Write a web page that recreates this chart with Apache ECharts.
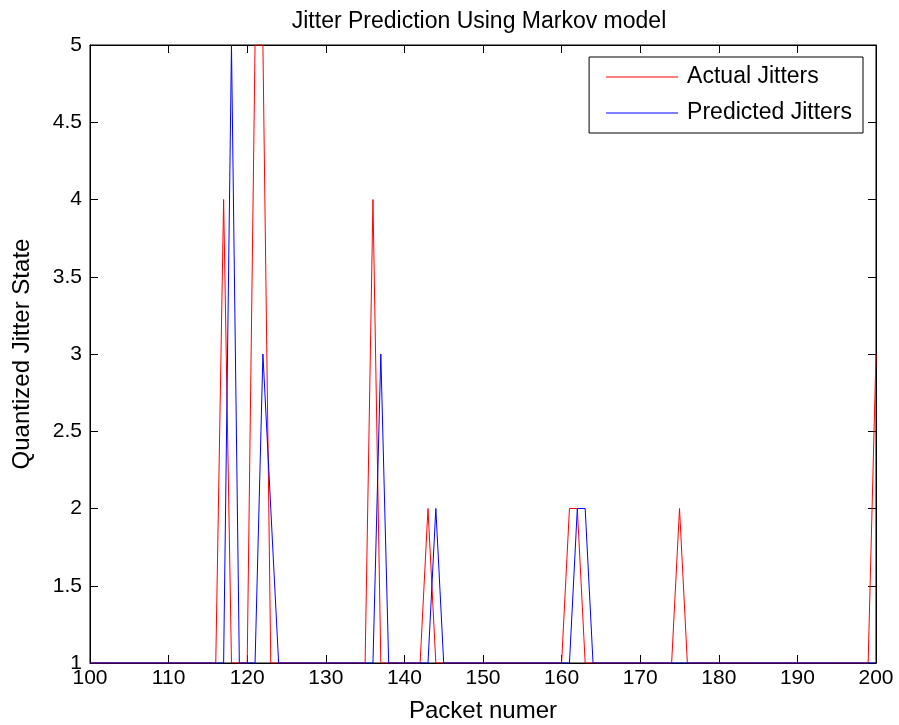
<!DOCTYPE html>
<html>
<head>
<meta charset="utf-8">
<script src="https://cdn.jsdelivr.net/npm/echarts@6/dist/echarts.min.js"></script>
<style>
html,body{margin:0;padding:0;background:#fff;}
#chart{width:899px;height:725px;}
</style>
</head>
<body>
<div id="chart"></div>
<script>
// packet numbers 100..200, one value per packet
var packetStart = 100;
var actualJitters = [
	1,1,1,1,1,1,1,1,1,1,
	1,1,1,1,1,1,1,4,1,1,
	1,5,5,1,1,1,1,1,1,1,
	1,1,1,1,1,1,4,1,1,1,
	1,1,1,2,1,1,1,1,1,1,
	1,1,1,1,1,1,1,1,1,1,
	1,2,2,1,1,1,1,1,1,1,
	1,1,1,1,1,2,1,1,1,1,
	1,1,1,1,1,1,1,1,1,1,
	1,1,1,1,1,1,1,1,1,1,
	3
];
var predictedJitters = [
	1,1,1,1,1,1,1,1,1,1,
	1,1,1,1,1,1,1,1,5,1,
	1,1,3,2,1,1,1,1,1,1,
	1,1,1,1,1,1,1,3,1,1,
	1,1,1,1,2,1,1,1,1,1,
	1,1,1,1,1,1,1,1,1,1,
	1,1,2,2,1,1,1,1,1,1,
	1,1,1,1,1,1,1,1,1,1,
	1,1,1,1,1,1,1,1,1,1,
	1,1,1,1,1,1,1,1,1,1,
	1
];
var seriesNames = ['Actual Jitters','Predicted Jitters'];
var seriesColors = ['#ff0000','#0000ff'];

function toPairs(arr){
	var out = [];
	arr.forEach(function(v,i){ out.push([packetStart + i, v]); });
	return out;
}

var font = 'Liberation Sans, Arial, Helvetica, sans-serif';
var myChart = echarts.init(document.getElementById('chart'));
var tickInside = {show:true, inside:true, length:8, lineStyle:{color:'#000', width:1}};
var option = {
	backgroundColor: '#fff',
	animation: false,
	color: seriesColors,
	title: {
		text: 'Jitter Prediction Using Markov model',
		left: 474,
		textAlign: 'center',
		top: 5,
		textStyle: {fontFamily: font, fontSize: 23, fontWeight: 'normal', color: '#000'}
	},
	grid: {
		left: 90, right: 23, top: 45, bottom: 62,
		outerBoundsMode: 'none',
		containLabel: false,
		show: true, borderColor: '#000', borderWidth: 1, backgroundColor: '#fff'
	},
	legend: {
		orient: 'vertical',
		right: 36,
		top: 57,
		padding: [8, 11, 8, 17],
		borderColor: '#000',
		borderWidth: 1,
		backgroundColor: '#fff',
		itemWidth: 72,
		itemHeight: 1,
		itemGap: 12,
		icon: 'rect',
		textStyle: {fontFamily: font, fontSize: 23, lineHeight: 24, color: '#000', padding: [0,0,0,4]},
		data: [
			{name: seriesNames[0], itemStyle: {color: seriesColors[0]}},
			{name: seriesNames[1], itemStyle: {color: seriesColors[1]}}
		]
	},
	xAxis: [{
		type: 'value', min: 100, max: 200, interval: 10,
		name: 'Packet numer', nameLocation: 'middle', nameGap: 36,
		nameTextStyle: {fontFamily: font, fontSize: 24, color: '#000'},
		axisLine: {show: true, lineStyle: {color: '#000'}},
		axisTick: tickInside,
		axisLabel: {fontFamily: font, fontSize: 21, color: '#000', margin: 5},
		splitLine: {show: false}
	},{
		type: 'value', min: 100, max: 200, interval: 10, position: 'top',
		axisLine: {show: true, lineStyle: {color: '#000'}},
		axisTick: tickInside, axisLabel: {show: false}, splitLine: {show: false}
	}],
	yAxis: [{
		type: 'value', min: 1, max: 5, interval: 0.5,
		name: 'Quantized Jitter State', nameLocation: 'middle', nameGap: 56,
		nameTextStyle: {fontFamily: font, fontSize: 24, color: '#000'},
		axisLine: {show: true, lineStyle: {color: '#000'}},
		axisTick: tickInside,
		axisLabel: {fontFamily: font, fontSize: 21, color: '#000', margin: 8},
		splitLine: {show: false}
	},{
		type: 'value', min: 1, max: 5, interval: 0.5, position: 'right',
		axisLine: {show: true, lineStyle: {color: '#000'}},
		axisTick: tickInside, axisLabel: {show: false}, splitLine: {show: false}
	}],
	series: [{
		name: seriesNames[0],
		type: 'line',
		data: toPairs(actualJitters),
		showSymbol: false, symbol: 'none',
		itemStyle: {color: seriesColors[0]},
		lineStyle: {color: seriesColors[0], width: 1}
	},{
		name: seriesNames[1],
		type: 'line',
		data: toPairs(predictedJitters),
		showSymbol: false, symbol: 'none',
		itemStyle: {color: seriesColors[1]},
		lineStyle: {color: seriesColors[1], width: 1}
	}]
};
myChart.setOption(option);
</script>
</body>
</html>
